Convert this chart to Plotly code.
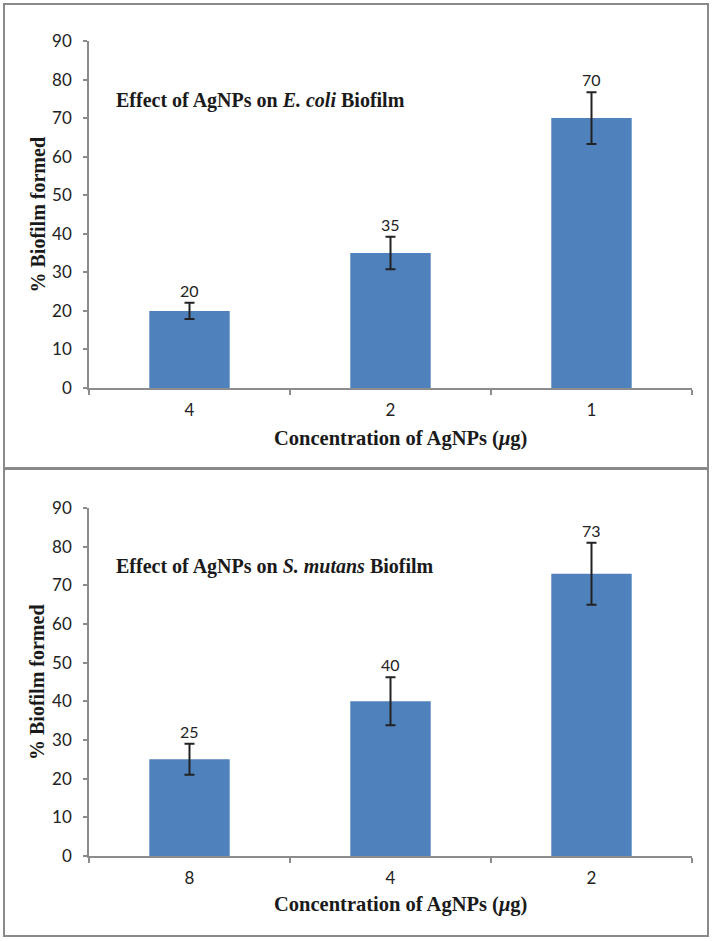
import plotly.graph_objects as go

W, H = 715, 941

# ---- data ----
ecoli_conc = ["4", "2", "1"]
ecoli_biofilm = [20, 35, 70]
ecoli_err = [2.1, 4.2, 6.7]

smutans_conc = ["8", "4", "2"]
smutans_biofilm = [25, 40, 73]
smutans_err = [4.0, 6.2, 8.0]

y_ticks = [0, 10, 20, 30, 40, 50, 60, 70, 80, 90]

titles = ["Effect of AgNPs on <i>E. coli</i> Biofilm",
          "Effect of AgNPs on <i>S. mutans</i> Biofilm"]
x_title = "Concentration of AgNPs (<i>μ</i>g)"
y_title = "% Biofilm formed"

BAR = "#4F81BD"
AXIS = "#8c8c8c"
SERIF = "Liberation Serif"
SANS = "Lato"

def px_x(v):
    return v / W

def px_y(v):
    return 1 - v / H

fig = go.Figure()

panels = [
    dict(cats=ecoli_conc, vals=ecoli_biofilm, err=ecoli_err, title=titles[0],
         top=41, bottom=388, xa="x", ya="y", box=(4, 468), title_y=100, xt_y=438),
    dict(cats=smutans_conc, vals=smutans_biofilm, err=smutans_err, title=titles[1],
         top=508, bottom=856, xa="x2", ya="y2", box=(469, 936), title_y=566, xt_y=904),
]

shapes = []
annotations = []
for i, p in enumerate(panels):
    fig.add_trace(go.Bar(
        x=p["cats"], y=p["vals"], xaxis=p["xa"], yaxis=p["ya"],
        marker=dict(color=BAR, line=dict(width=0)),
        error_y=dict(type="data", array=p["err"], visible=True,
                     color="#222222", thickness=2, width=5),
        showlegend=False, hoverinfo="x+y",
    ))
    # value labels above the error bars
    for k, (v, e) in enumerate(zip(p["vals"], p["err"])):
        annotations.append(dict(
            x=k, y=v + e, xref=p["xa"], yref=p["ya"], text=str(v),
            showarrow=False, yanchor="bottom", yshift=1,
            font=dict(family=SANS, size=16, color="#222222")))
    # panel title
    annotations.append(dict(
        x=px_x(114), y=px_y(p["title_y"]), xref="paper", yref="paper",
        xanchor="left", yanchor="middle", showarrow=False,
        text="<b>" + p["title"] + "</b>",
        font=dict(family=SERIF, size=20, color="#1a1a1a")))
    # y axis title
    annotations.append(dict(
        x=px_x(37), y=px_y((p["top"] + p["bottom"]) / 2), xref="paper", yref="paper",
        xanchor="center", yanchor="middle", showarrow=False, textangle=-90,
        text="<b>" + y_title + "</b>",
        font=dict(family=SERIF, size=20, color="#1a1a1a")))
    # x axis title
    annotations.append(dict(
        x=px_x(400), y=px_y(p["xt_y"]), xref="paper", yref="paper",
        xanchor="center", yanchor="middle", showarrow=False,
        text="<b>" + x_title + "</b>",
        font=dict(family=SERIF, size=20.5, color="#1a1a1a")))
    # panel border
    shapes.append(dict(type="rect", xref="paper", yref="paper",
                       x0=px_x(4), x1=px_x(708), y0=px_y(p["box"][1]), y1=px_y(p["box"][0]),
                       line=dict(color="#8a8a8a", width=2), fillcolor="rgba(0,0,0,0)"))

xdom = [px_x(89), px_x(692)]
axis_common_x = dict(
    domain=xdom, type="category", range=[-0.5, 2.5], automargin=False,
    showline=True, linecolor=AXIS, linewidth=1.5,
    ticks="outside", tickson="boundaries", ticklen=5, tickcolor=AXIS, tickwidth=1.5,
    tickfont=dict(family=SANS, size=17, color="#222222"),
    showgrid=False, zeroline=False, ticklabelstandoff=6,
)
axis_common_y = dict(
    range=[0, 90], tickvals=y_ticks, automargin=False,
    showline=True, linecolor=AXIS, linewidth=1.5,
    ticks="outside", ticklen=4, tickcolor=AXIS, tickwidth=1.5,
    tickfont=dict(family=SANS, size=17, color="#222222"),
    showgrid=False, zeroline=False, ticklabelstandoff=8,
)

fig.update_layout(
    width=W, height=H,
    margin=dict(l=0, r=0, t=0, b=0, pad=0, autoexpand=False),
    paper_bgcolor="white", plot_bgcolor="white",
    bargap=0.6,
    xaxis=dict(axis_common_x, anchor="y", categoryorder="array", categoryarray=ecoli_conc),
    yaxis=dict(axis_common_y, anchor="x",
               domain=[px_y(panels[0]["bottom"]), px_y(panels[0]["top"])]),
    xaxis2=dict(axis_common_x, anchor="y2", categoryorder="array", categoryarray=smutans_conc),
    yaxis2=dict(axis_common_y, anchor="x2",
                domain=[px_y(panels[1]["bottom"]), px_y(panels[1]["top"])]),
    shapes=shapes,
    annotations=annotations,
)

fig.write_html("out.html", config={"displayModeBar": False},
               post_script="document.body.style.margin='0';document.body.style.overflow='hidden';")
